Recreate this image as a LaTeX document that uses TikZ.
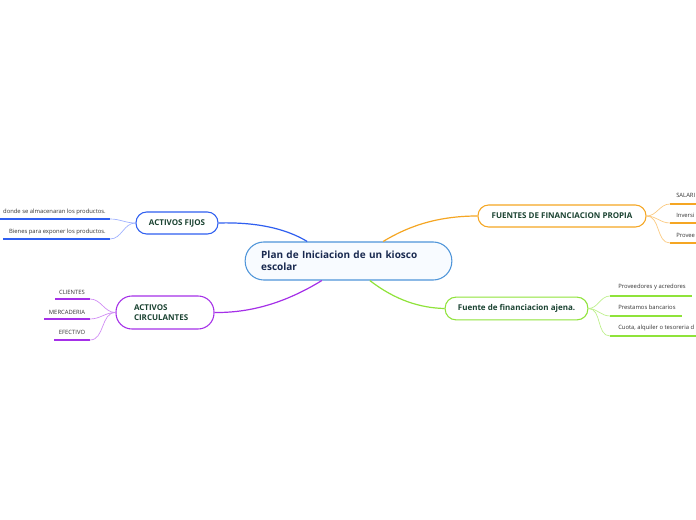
\documentclass[tikz,border=0pt]{standalone}
\usepackage{fontspec}
\setmainfont{Open Sans}
\definecolor{cblue}{HTML}{2F5FF0}
\definecolor{lblue}{HTML}{9DB0FF}
\definecolor{cpurp}{HTML}{A530E8}
\definecolor{lpurp}{HTML}{D08AF5}
\definecolor{corng}{HTML}{F5A623}
\definecolor{lorng}{HTML}{FBC97E}
\definecolor{cgrn}{HTML}{8FE33A}
\definecolor{lgrn}{HTML}{BDF08A}
\definecolor{cbord}{HTML}{4F95D9}
\definecolor{cfill}{HTML}{F8FBFF}
\definecolor{tgreen}{HTML}{1B4332}
\definecolor{tnavy}{HTML}{1A2A50}
\definecolor{tleaf}{HTML}{333333}
\begin{document}
\begin{tikzpicture}[x=0.75pt,y=-0.75pt,
  central/.style={draw=cbord,fill=cfill,line width=0.8pt,rounded corners=14pt,
    minimum width=155pt,minimum height=28.5pt,text width=131pt,align=left,
    font=\fontsize{7.5}{9}\selectfont\bfseries,text=tnavy,inner sep=0pt},
  branch/.style={draw=#1,fill=white,line width=0.8pt,rounded corners=8pt,
    font=\fontsize{6}{7.5}\selectfont\bfseries,text=tgreen,inner sep=0pt,align=center},
  conn/.style={draw=#1,line width=0.9pt},
  sub/.style={draw=#1,line width=0.5pt},
  ul/.style={draw=#1,line width=1.4pt},
  leaf/.style={font=\fontsize{4.4}{5}\selectfont,text=tleaf,inner sep=0pt,anchor=base}
]
\useasboundingbox (0,0) rectangle (696,520);
\fill[white] (0,0) rectangle (696,520);

% central
\node[central] (c) at (348.5,261) {Plan de Iniciacion de un kiosco\\escolar};

% branches
\node[branch=cblue,minimum width=61.5pt,minimum height=16.5pt] (af) at (177,223) {ACTIVOS FIJOS};
\node[branch=cpurp,minimum width=73.5pt,minimum height=24.75pt,rounded corners=12pt,
  text width=46.5pt,align=left] (ac) at (165,312.5) {ACTIVOS\\CIRCULANTES};
\node[branch=corng,minimum width=126pt,minimum height=16.5pt] (fp) at (562,216) {FUENTES DE FINANCIACION PROPIA};
\node[branch=cgrn,minimum width=107pt,minimum height=17pt] (fa) at (516.5,308.5) {Fuente de financiacion ajena.};

% main connectors
\draw[conn=cblue] ([xshift=-31pt]c.north) .. controls (285,228) and (255,222) .. (af.east);
\draw[conn=corng] ([xshift=26pt]c.north) .. controls (410,225) and (440,216) .. (fp.west);
\draw[conn=cpurp] ([xshift=-20pt]c.south) .. controls (290,300) and (255,313) .. (ac.east);
\draw[conn=cgrn] ([xshift=16pt]c.south) .. controls (395,300) and (420,308) .. (fa.west);

% ACTIVOS FIJOS leaves
\coordinate (u1a) at (0,219); \coordinate (u1b) at (110,219);
\coordinate (u2a) at (3,239); \coordinate (u2b) at (110,239);
\node[leaf,anchor=base east] (l1) at (106,214) {donde se almacenaran los productos.};
\node[leaf,anchor=base east] (l2) at (106,234) {Bienes para exponer los productos.};
\draw[ul=cblue] (u1a) -- (u1b); \draw[ul=cblue] (u2a) -- (u2b);
\draw[sub=lblue] (af.west) to[out=180,in=0] (u1b);
\draw[sub=lblue] (af.west) to[out=180,in=0] (u2b);

% ACTIVOS CIRCULANTES leaves
\coordinate (u3a) at (55,299); \coordinate (u3b) at (90,299);
\coordinate (u4a) at (44,319); \coordinate (u4b) at (90,319);
\coordinate (u5a) at (54,340); \coordinate (u5b) at (90,340);
\node[leaf] (l3) at (72,295) {CLIENTES};
\node[leaf] (l4) at (67,315) {MERCADERIA};
\node[leaf] (l5) at (72,334.5) {EFECTIVO};
\draw[ul=cpurp] (u3a) -- (u3b); \draw[ul=cpurp] (u4a) -- (u4b); \draw[ul=cpurp] (u5a) -- (u5b);
\draw[sub=lpurp] (ac.west) to[out=180,in=0] (u3b);
\draw[sub=lpurp] (ac.west) to[out=180,in=0] (u4b);
\draw[sub=lpurp] (ac.west) to[out=180,in=0] (u5b);

% FUENTES PROPIA leaves
\coordinate (u6a) at (670,204); \coordinate (u6b) at (696,204);
\coordinate (u7a) at (670,223); \coordinate (u7b) at (696,223);
\coordinate (u8a) at (670,243); \coordinate (u8b) at (696,243);
\node[leaf,anchor=base west] (l6) at (676,198) {SALARI};
\node[leaf,anchor=base west] (l7) at (676,218) {Inversi};
\node[leaf,anchor=base west] (l8) at (676,238) {Provee};
\draw[ul=corng] (u6a) -- (u6b); \draw[ul=corng] (u7a) -- (u7b); \draw[ul=corng] (u8a) -- (u8b);
\draw[sub=lorng] (fp.east) to[out=0,in=180] (u6a);
\draw[sub=lorng] (fp.east) to[out=0,in=180] (u7a);
\draw[sub=lorng] (fp.east) to[out=0,in=180] (u8a);

% FUENTE AJENA leaves
\coordinate (u9a) at (610,296); \coordinate (u9b) at (692,296);
\coordinate (u10a) at (610,316); \coordinate (u10b) at (682,316);
\coordinate (u11a) at (610,336); \coordinate (u11b) at (696,336);
\node[leaf,anchor=base west] (l9) at (618,289) {Proveedores y acredores};
\node[leaf,anchor=base west] (l10) at (618,309.5) {Prestamos bancarios};
\node[leaf,anchor=base west] (l11) at (618,329.5) {Cuota, alquiler o tesoreria d};
\draw[ul=cgrn] (u9a) -- (u9b); \draw[ul=cgrn] (u10a) -- (u10b); \draw[ul=cgrn] (u11a) -- (u11b);
\draw[sub=lgrn] (fa.east) to[out=0,in=180] (u9a);
\draw[sub=lgrn] (fa.east) to[out=0,in=180] (u10a);
\draw[sub=lgrn] (fa.east) to[out=0,in=180] (u11a);
\end{tikzpicture}
\end{document}
